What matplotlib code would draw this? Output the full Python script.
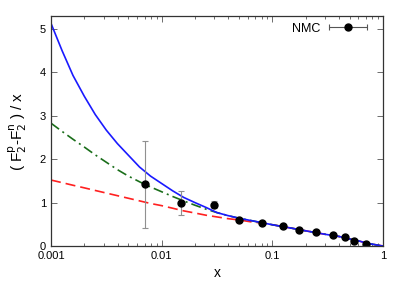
import matplotlib.pyplot as plt
from matplotlib.ticker import LogLocator, NullFormatter, FixedLocator
from matplotlib.legend_handler import HandlerErrorbar

plt.rcParams['font.family'] = ['Liberation Sans', 'DejaVu Sans']

# NMC data
nmc_x = [0.007, 0.015, 0.03, 0.05, 0.08, 0.125, 0.175, 0.25, 0.35, 0.45, 0.55, 0.70]
nmc_y = [1.42, 0.99, 0.95, 0.61, 0.54, 0.46, 0.36, 0.32, 0.26, 0.21, 0.12, 0.05]
nmc_err = [1.0, 0.27, 0.08, 0.04, 0.03, 0.03, 0.03, 0.03, 0.03, 0.03, 0.03, 0.03]

# curves
grid_x = [0.001, 0.00126, 0.00158, 0.002, 0.00251, 0.00316, 0.00398, 0.00501,
          0.00631, 0.00794, 0.01, 0.0126, 0.0158, 0.02, 0.0251, 0.0316,
          0.0398, 0.0501, 0.0631, 0.0794, 0.1, 0.15, 0.2, 0.3, 0.4, 0.5,
          0.6, 0.7, 0.85, 1.0]
blue_y = [5.13, 4.5, 3.93, 3.45, 3.03, 2.67, 2.36, 2.09,
          1.82, 1.61, 1.44, 1.27, 1.12, 1.0, 0.89, 0.77,
          0.70, 0.64, 0.59, 0.54, 0.49, 0.41, 0.35, 0.27, 0.22, 0.16,
          0.12, 0.07, 0.03, 0.0]
green_y = [2.83, 2.64, 2.46, 2.28, 2.10, 1.93, 1.76, 1.61,
           1.48, 1.36, 1.25, 1.14, 1.04, 0.94, 0.85, 0.77,
           0.70, 0.64, 0.59, 0.54, 0.49, 0.41, 0.35, 0.27, 0.22, 0.16,
           0.12, 0.07, 0.03, 0.0]
red_y = [1.52, 1.46, 1.40, 1.34, 1.28, 1.22, 1.16, 1.10,
         1.04, 0.98, 0.93, 0.87, 0.81, 0.76, 0.71, 0.67,
         0.63, 0.60, 0.56, 0.53, 0.49, 0.41, 0.35, 0.27, 0.22, 0.16,
         0.12, 0.07, 0.03, 0.0]

fig = plt.figure(figsize=(4.15, 2.91), dpi=100)
ax = fig.add_axes([0.1229, 0.1546, 0.8, 0.7904])

ax.plot(grid_x, red_y, color='#ff2020', lw=1.2, dashes=(6, 3))
ax.plot(grid_x, green_y, color='#1a6e1a', lw=1.2, dashes=(6, 2.5, 1.2, 2.5))
ax.plot(grid_x, blue_y, color='#1a1aff', lw=1.2)
ax.errorbar(nmc_x, nmc_y, yerr=nmc_err, fmt='o', color='black', ms=5,
            ecolor='#909090', elinewidth=0.8, capsize=2.5, capthick=0.8)

# dummy handle so the legend shows a horizontal error bar
handle = ax.errorbar([float('nan')], [float('nan')], xerr=[1.0], fmt='o',
                     color='black', ms=5, ecolor='#555555', elinewidth=0.8,
                     capsize=2.5, capthick=0.8)

ax.set_xscale('log')
ax.set_xlim(0.001, 1)
ax.set_ylim(0, 5.3)
ax.xaxis.set_major_locator(FixedLocator([0.001, 0.01, 0.1, 1]))
ax.set_xticklabels(['0.001', '0.01', '0.1', '1'])
ax.xaxis.set_minor_locator(LogLocator(base=10, subs=range(2, 10)))
ax.xaxis.set_minor_formatter(NullFormatter())
ax.set_yticks([0, 1, 2, 3, 4, 5])
ax.tick_params(which='both', direction='in', top=True, right=True, labelsize=8,
               width=0.6, color='#555555')
ax.tick_params(which='major', length=4)
ax.tick_params(which='minor', length=2)
for s in ax.spines.values():
    s.set_linewidth(0.9)
    s.set_color('#333333')

ax.set_xlabel('x', fontsize=10, labelpad=4)
ax.set_ylabel('( F$_2^\\mathrm{p}$-F$_2^\\mathrm{n}$ ) / x', fontsize=11, labelpad=8)

ax.legend([handle], ['NMC'], loc='upper right', bbox_to_anchor=(0.972, 0.995),
          frameon=False, fontsize=9, markerfirst=False, handlelength=3.2,
          handletextpad=0.6, borderaxespad=0.15, borderpad=0.3,
          handler_map={handle: HandlerErrorbar(xerr_size=1.55)})

fig.savefig('out.png', dpi=100)
